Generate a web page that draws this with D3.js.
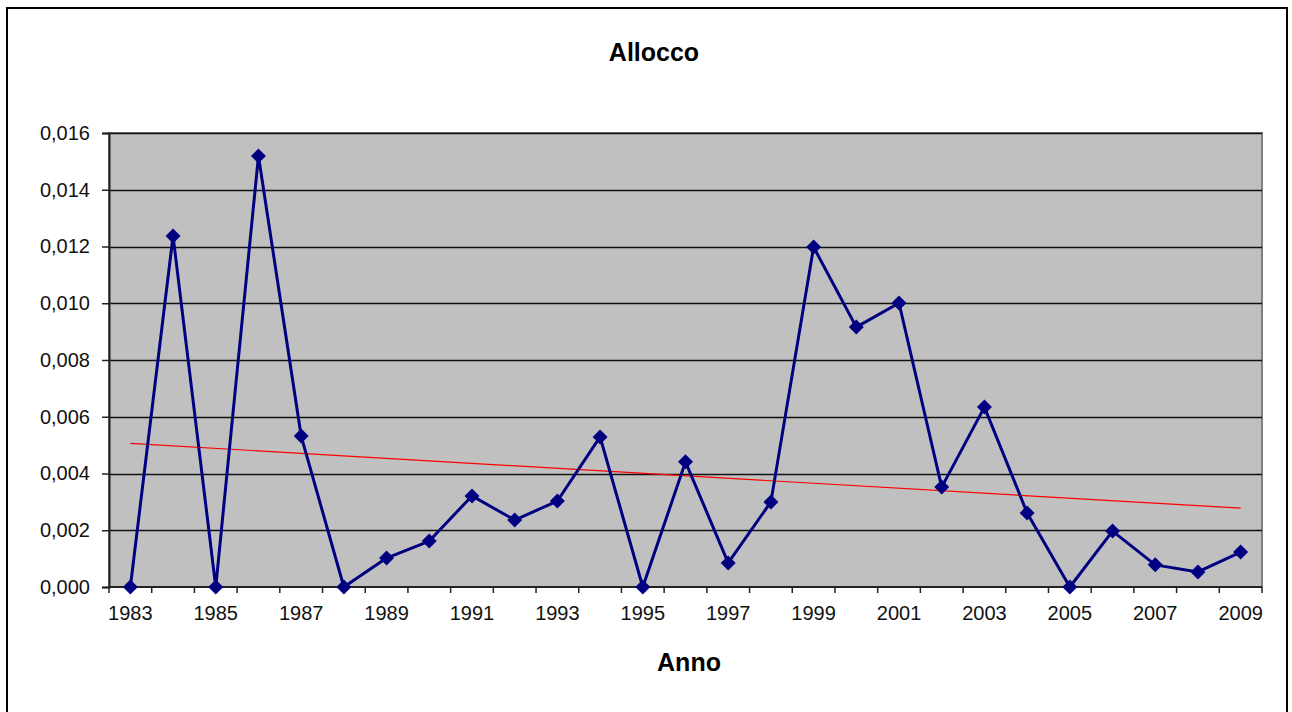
<!DOCTYPE html>
<html><head><meta charset="utf-8">
<script src="https://cdn.jsdelivr.net/npm/d3@7"></script>
<style>body{margin:0;background:#fff}svg{display:block;font-family:Arial,"Liberation Sans",sans-serif}</style>
</head><body><svg id="c" width="1292" height="712"></svg>
<script>
const years = d3.range(1983, 2010);
const values = [0, 0.01237, 0, 0.01519, 0.00532, 0, 0.00102, 0.00162, 0.00321, 0.00236,
  0.00303, 0.00529, 0, 0.00441, 0.00085, 0.00300, 0.01198, 0.00916, 0.01001, 0.00352,
  0.00634, 0.00261, 0, 0.00197, 0.00078, 0.00053, 0.00123];
const yTicks = [0, 0.002, 0.004, 0.006, 0.008, 0.010, 0.012, 0.014, 0.016];
const xLabelYears = years.filter((y,i)=>i%2===0);
const title = "Allocco", xTitle = "Anno";

const svg = d3.select("#c");
svg.append("rect").attr("x",7).attr("y",8).attr("width",1280).attr("height",720)
  .attr("fill","#fff").attr("stroke","#000").attr("stroke-width",2);

const L=109,R=1262,T=133,B=587;
const x = d3.scaleBand().domain(years).range([L,R]);
const y = d3.scaleLinear().domain([0,0.016]).range([B,T]);
const fmt = d => d3.format(".3f")(d).replace(".",",");

svg.append("rect").attr("x",L).attr("y",T).attr("width",R-L).attr("height",B-T)
  .attr("fill","#C0C0C0").attr("stroke","#808080").attr("stroke-width",2);

// gridlines
svg.append("g").selectAll("line").data(yTicks.slice(1)).join("line")
  .attr("x1",L).attr("x2",R).attr("y1",d=>Math.round(y(d))+0.5).attr("y2",d=>Math.round(y(d))+0.5)
  .attr("stroke","#111").attr("stroke-width",1.5);

// y axis
const ya = svg.append("g").attr("transform",`translate(${L},0)`)
  .call(d3.axisLeft(y).tickValues(yTicks).tickFormat(fmt).tickSize(7).tickPadding(12));
ya.select(".domain").attr("stroke","#222").attr("stroke-width",2);
ya.selectAll(".tick line").attr("stroke","#222").attr("stroke-width",1.5);
ya.selectAll("text").attr("font-size",20).attr("fill","#111").attr("font-family","Arial, 'Liberation Sans', sans-serif");

// x axis line
svg.append("line").attr("x1",L).attr("x2",R).attr("y1",B).attr("y2",B).attr("stroke","#222").attr("stroke-width",2);
// x ticks at category boundaries
const bounds = years.map(d=>x(d)).concat([R]);
svg.append("g").selectAll("line").data(bounds).join("line")
  .attr("x1",d=>d).attr("x2",d=>d).attr("y1",B).attr("y2",B+6).attr("stroke","#222").attr("stroke-width",1.5);
svg.append("g").selectAll("text").data(xLabelYears).join("text")
  .attr("x",d=>x(d)+x.bandwidth()/2).attr("y",620).attr("text-anchor","middle")
  .attr("font-size",20).attr("fill","#111").text(d=>d);

// trendline (least squares)
const n=years.length, mx=d3.mean(years), my=d3.mean(values);
const slope = d3.sum(years.map((t,i)=>(t-mx)*(values[i]-my)))/d3.sum(years.map(t=>(t-mx)**2));
const icpt = my - slope*mx;
const cx = d => x(d)+x.bandwidth()/2;
svg.append("line").attr("x1",cx(years[0])).attr("x2",cx(years[n-1]))
  .attr("y1",y(icpt+slope*years[0])).attr("y2",y(icpt+slope*years[n-1]))
  .attr("stroke","#FF0000").attr("stroke-width",1.2);

// series
const pts = years.map((t,i)=>[cx(t), y(values[i])]);
svg.append("path").attr("d",d3.line()(pts)).attr("fill","none")
  .attr("stroke","#000080").attr("stroke-width",3).attr("stroke-linejoin","round");
svg.append("g").selectAll("path").data(pts).join("path")
  .attr("transform",d=>`translate(${d[0]},${d[1]})`)
  .attr("d","M0,-7.5L7.5,0L0,7.5L-7.5,0Z").attr("fill","#000080");

svg.append("text").attr("x",654).attr("y",61).attr("text-anchor","middle")
  .attr("font-size",25).attr("font-weight","bold").attr("fill","#000").text(title);
svg.append("text").attr("x",689).attr("y",671).attr("text-anchor","middle")
  .attr("font-size",25).attr("font-weight","bold").attr("fill","#000").text(xTitle);
</script></body></html>
